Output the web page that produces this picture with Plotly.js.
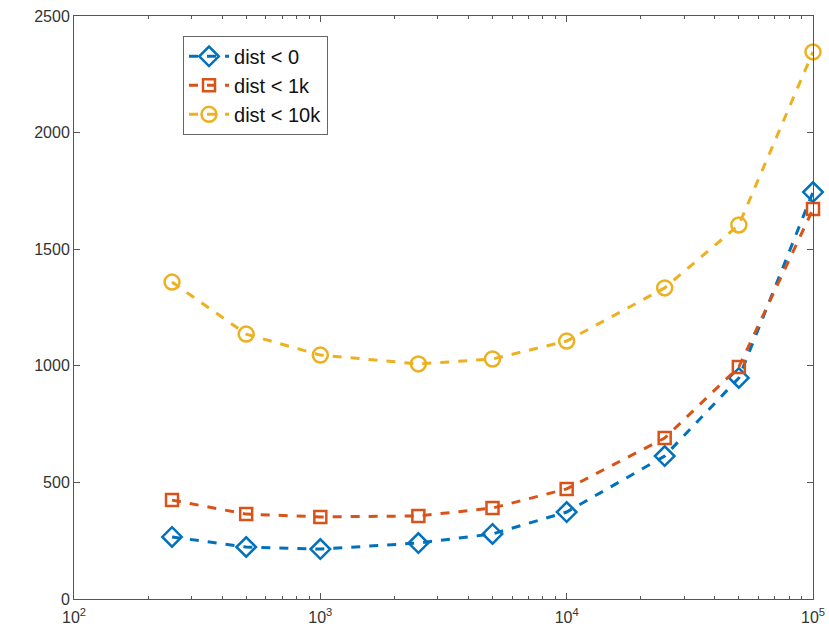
<!DOCTYPE html>
<html><head><meta charset="utf-8">
<script src="https://cdn.plot.ly/plotly-3.0.1.min.js"></script>
<style>html,body{margin:0;padding:0;background:#fff}</style>
</head><body><div id="chart" style="width:829px;height:631px"></div>
<script>
const xValues = [250, 500, 1000, 2500, 5000, 10000, 25000, 50000, 100000];
const dist0 = [266, 223, 214, 240, 279, 373, 613, 948, 1745];
const dist1k = [424, 364, 352, 356, 390, 472, 690, 995, 1672];
const dist10k = [1359, 1136, 1046, 1008, 1029, 1106, 1334, 1604, 2346];
const seriesNames = ['dist < 0', 'dist < 1k', 'dist < 10k'];
const xTickVals = [100, 1000, 10000, 100000];
const xTickText = ['10<sup>2</sup>', '10<sup>3</sup>', '10<sup>4</sup>', '10<sup>5</sup>'];
const xMinorVals = [200,300,400,500,600,700,800,900,2000,3000,4000,5000,6000,7000,8000,9000,20000,30000,40000,50000,60000,70000,80000,90000];
const yTickVals = [0, 500, 1000, 1500, 2000, 2500];

const colors = ['#0072BD', '#D95319', '#EDB120'];
const symbols = ['diamond-open', 'square-open', 'circle-open'];
const sizes = [15, 12, 15];
const data = [dist0, dist1k, dist10k].map((y, i) => ({
  x: xValues, y: y, name: seriesNames[i], type: 'scatter', mode: 'lines+markers',
  cliponaxis: false,
  line: {color: colors[i], width: 3, dash: 'dash'},
  marker: {symbol: symbols[i], size: sizes[i], color: colors[i], line: {color: colors[i], width: 2.5}}
}));

const axisCommon = {
  showgrid: false, zeroline: false, showline: true, linecolor: '#555', linewidth: 1,
  mirror: 'ticks', ticks: 'inside', ticklen: 6, tickcolor: '#555',
  tickfont: {family: 'Liberation Sans, Arial, sans-serif', size: 16, color: '#333'}
};
const layout = {
  width: 829, height: 631,
  margin: {l: 74, r: 16, t: 16, b: 32},
  paper_bgcolor: '#fff', plot_bgcolor: '#fff',
  showlegend: true,
  legend: {x: 0.1475, y: 0.966, xanchor: 'left', yanchor: 'top', bgcolor: '#fff',
    bordercolor: '#666', borderwidth: 1, tracegroupgap: 0, itemwidth: 40,
    font: {family: 'Liberation Sans, Arial, sans-serif', size: 20, color: '#111'}},
  xaxis: Object.assign({}, axisCommon, {
    type: 'log', range: [2, 5], tickmode: 'array', tickvals: xTickVals, ticktext: xTickText,
    ticklabelstandoff: 4,
    minor: {tickmode: 'array', tickvals: xMinorVals, ticks: 'inside', ticklen: 3, tickcolor: '#555', showgrid: false}
  }),
  yaxis: Object.assign({}, axisCommon, {
    range: [0, 2500], tickmode: 'array', tickvals: yTickVals
  })
};
Plotly.newPlot('chart', data, layout, {displayModeBar: false, staticPlot: true});
</script></body></html>
